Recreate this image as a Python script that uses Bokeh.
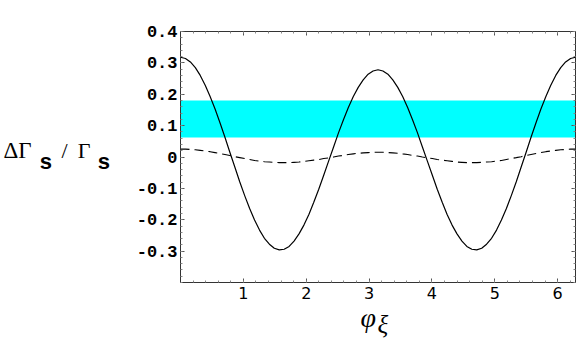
from bokeh.plotting import figure
from bokeh.models import FixedTicker, Range1d, LinearAxis, ColumnDataSource
from bokeh.embed import file_html
from bokeh.resources import INLINE

# ---- data ----
phi = [0.000, 0.079, 0.157, 0.236, 0.314, 0.393, 0.471, 0.550, 0.628, 0.707,
       0.785, 0.864, 0.942, 1.021, 1.100, 1.178, 1.257, 1.335, 1.414, 1.492,
       1.571, 1.649, 1.728, 1.806, 1.885, 1.963, 2.042, 2.120, 2.199, 2.278,
       2.356, 2.435, 2.513, 2.592, 2.670, 2.749, 2.827, 2.906, 2.985, 3.063,
       3.142, 3.220, 3.299, 3.377, 3.456, 3.534, 3.613, 3.691, 3.770, 3.848,
       3.927, 4.006, 4.084, 4.163, 4.241, 4.320, 4.398, 4.477, 4.555, 4.634,
       4.712, 4.791, 4.869, 4.948, 5.027, 5.105, 5.184, 5.262, 5.341, 5.419,
       5.498, 5.576, 5.655, 5.733, 5.812, 5.890, 5.969, 6.048, 6.126, 6.205,
       6.283]
solid = [0.318, 0.314, 0.303, 0.285, 0.260, 0.229, 0.193, 0.153, 0.109, 0.063,
         0.015, -0.032, -0.079, -0.123, -0.164, -0.201, -0.233, -0.259, -0.278, -0.291,
         -0.296, -0.294, -0.285, -0.268, -0.245, -0.217, -0.183, -0.144, -0.103, -0.058,
         -0.013, 0.032, 0.077, 0.119, 0.158, 0.193, 0.222, 0.246, 0.264, 0.274,
         0.278, 0.274, 0.264, 0.246, 0.222, 0.193, 0.158, 0.119, 0.077, 0.032,
         -0.013, -0.058, -0.103, -0.144, -0.183, -0.217, -0.245, -0.268, -0.285, -0.294,
         -0.296, -0.291, -0.278, -0.259, -0.233, -0.201, -0.164, -0.123, -0.079, -0.032,
         0.015, 0.063, 0.109, 0.153, 0.193, 0.229, 0.260, 0.285, 0.303, 0.314,
         0.318]
dashed = [0.025, 0.025, 0.024, 0.023, 0.021, 0.019, 0.017, 0.014, 0.011, 0.008,
          0.005, 0.001, -0.002, -0.005, -0.008, -0.011, -0.013, -0.015, -0.016, -0.017,
          -0.018, -0.018, -0.018, -0.017, -0.016, -0.014, -0.012, -0.010, -0.008, -0.005,
          -0.003, 0.000, 0.003, 0.005, 0.008, 0.010, 0.012, 0.013, 0.014, 0.015,
          0.015, 0.015, 0.014, 0.013, 0.012, 0.010, 0.008, 0.005, 0.003, 0.000,
          -0.003, -0.005, -0.008, -0.010, -0.012, -0.014, -0.016, -0.017, -0.018, -0.018,
          -0.018, -0.017, -0.016, -0.015, -0.013, -0.011, -0.008, -0.005, -0.002, 0.001,
          0.005, 0.008, 0.011, 0.014, 0.017, 0.019, 0.021, 0.023, 0.024, 0.025,
          0.025]
band_low = [0.062]
band_high = [0.180]
band_left = [0.0]
band_right = [6.2832]

x_ticks = [1, 2, 3, 4, 5, 6]
y_ticks = [-0.3, -0.2, -0.1, 0, 0.1, 0.2, 0.3, 0.4]
y_tick_labels = ["-0.3", "-0.2", "-0.1", "0", "0.1", "0.2", "0.3", "0.4"]

X0, X1 = 0.0, 6.2832
Y0, Y1 = -0.4, 0.4

W, H = 576, 356
BL, BR, BT, BB = 169, 1, 31, 74

p = figure(width=W, height=H, output_backend="svg", toolbar_location=None,
           x_range=Range1d(X0, X1), y_range=Range1d(Y0, Y1),
           min_border_left=BL, min_border_right=BR, min_border_top=BT, min_border_bottom=BB,
           x_axis_location=None, y_axis_location=None)
p.xgrid.visible = False
p.ygrid.visible = False
p.outline_line_color = "#222222"
p.outline_line_width = 1
p.background_fill_color = "white"
p.border_fill_color = "white"

src = ColumnDataSource(dict(x=phi, s=solid, d=dashed))
p.quad(left=band_left, right=band_right, bottom=band_low, top=band_high,
       fill_color="#00FFFF", line_color=None)
p.line("x", "d", source=src, line_color="black", line_width=1.1, line_dash="9 5")
p.line("x", "s", source=src, line_color="black", line_width=1.2)

x_minor = [i * 0.2 for i in range(0, 32)]
y_minor = [round(-0.4 + i * 0.02, 2) for i in range(0, 41)]
xt = FixedTicker(ticks=x_ticks, minor_ticks=x_minor)
yt = FixedTicker(ticks=y_ticks, minor_ticks=y_minor)


def style(ax, show):
    ax.axis_line_color = "#333333"
    ax.axis_line_width = 1
    ax.major_tick_in = 4
    ax.major_tick_out = 0
    ax.minor_tick_in = 2
    ax.minor_tick_out = 0
    ax.major_tick_line_color = "#555555"
    ax.minor_tick_line_color = "#888888"
    if not show:
        ax.major_label_text_color = None
        ax.major_label_text_font_size = "1px"
        ax.major_label_standoff = 0


bottom = LinearAxis(ticker=xt)
style(bottom, True)
bottom.major_label_text_font = "DejaVu Sans"
bottom.major_label_text_font_size = "16px"
bottom.major_label_standoff = 4
bottom.major_label_text_color = "black"
p.add_layout(bottom, "below")

left = LinearAxis(ticker=yt)
style(left, True)
left.major_label_overrides = {t: l for t, l in zip(y_ticks, y_tick_labels)}
left.major_label_text_font = "Liberation Mono"
left.major_label_text_font_style = "bold"
left.major_label_text_font_size = "17px"
left.major_label_standoff = 3
left.major_label_text_color = "black"
p.add_layout(left, "left")

top = LinearAxis(ticker=xt)
style(top, False)
p.add_layout(top, "above")

right = LinearAxis(ticker=yt)
style(right, False)
p.add_layout(right, "right")


# ---- axis titles: written as single-tick label-only axes stacked beside the frame ----
FL, FR, FT, FB = BL, W - BR, BT, H - BB


def xdata(px):
    return round(X0 + (px - FL) / (FR - FL) * (X1 - X0), 4)


def ydata(py):
    return round(Y1 - (py - FT) / (FB - FT) * (Y1 - Y0), 4)


def title_part(side, pos, text, font, size, fstyle, standoff):
    ax = LinearAxis(ticker=FixedTicker(ticks=[pos], minor_ticks=[]))
    ax.major_label_overrides = {pos: text}
    ax.axis_line_color = None
    ax.major_tick_line_color = None
    ax.minor_tick_line_color = None
    ax.major_tick_in = 0
    ax.major_tick_out = 0
    ax.minor_tick_in = 0
    ax.minor_tick_out = 0
    ax.major_label_standoff = standoff
    ax.major_label_text_font = font
    ax.major_label_text_font_size = size
    ax.major_label_text_font_style = fstyle
    ax.major_label_text_color = "black"
    p.add_layout(ax, side)


serif = "Liberation Serif"
mono = "Liberation Mono"
# y title  "ΔΓs / Γs"  (parts stacked from the frame outwards)
title_part("left", ydata(163), "s", mono, "22px", "bold", 23)
title_part("left", ydata(150), "\u0393", serif, "22px", "normal", 4)
title_part("left", ydata(150), "/", serif, "22px", "normal", 7)
title_part("left", ydata(163), "s", mono, "22px", "bold", 6)
title_part("left", ydata(150), "\u0394\u0393", serif, "23px", "normal", 5)
# x title  "φξ"
title_part("below", xdata(362), "\u03c6", serif, "28px", "italic", 0)
title_part("below", xdata(377), "\u03be", serif, "25px", "italic", -25)

open("out.html", "w").write(file_html(p, INLINE))
